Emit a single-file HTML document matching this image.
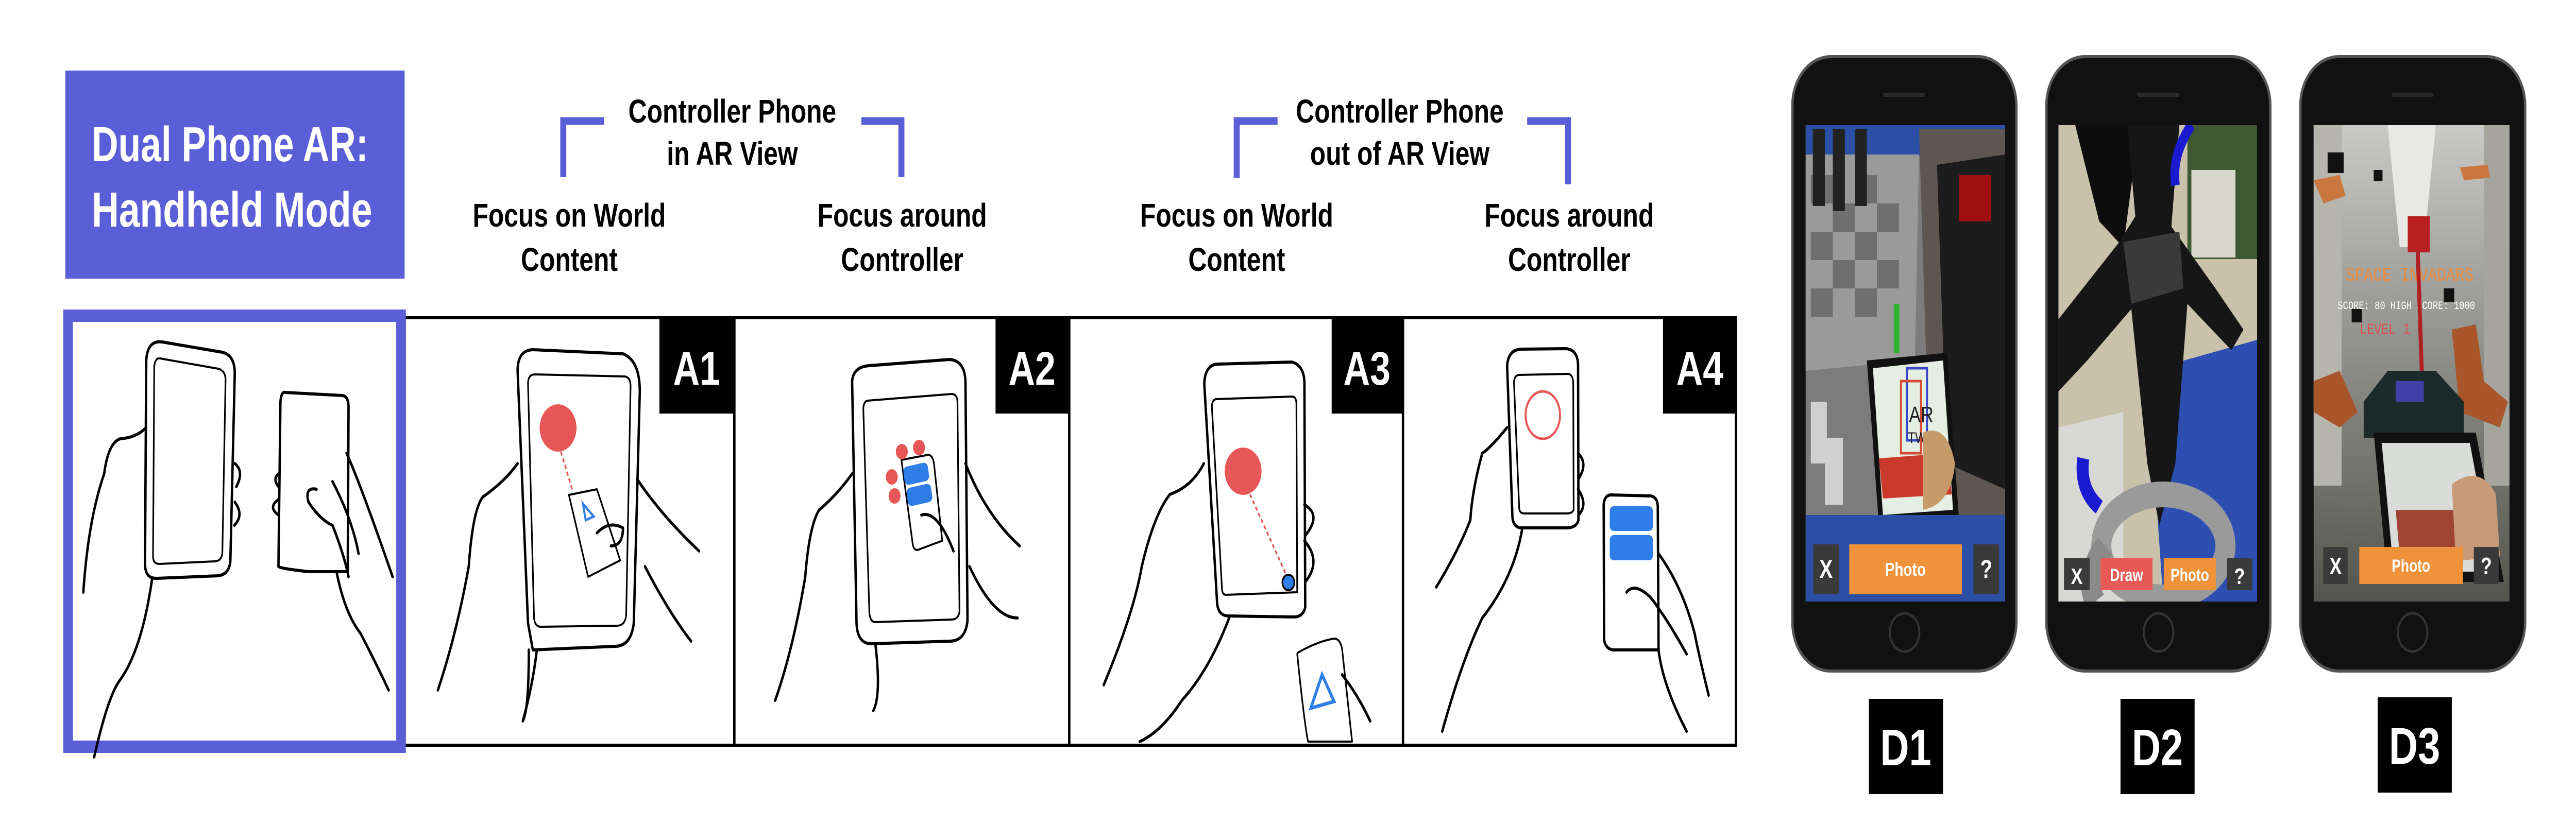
<!DOCTYPE html>
<html><head><meta charset="utf-8"><style>
html,body{margin:0;padding:0;background:#fff;width:100%;height:100%;overflow:hidden;}
svg{display:block;width:100vw;height:100vh;}
.t{font-family:"Liberation Sans",sans-serif;font-weight:bold;}
</style></head><body>
<svg viewBox="0 0 6430 1600" preserveAspectRatio="none" xmlns="http://www.w3.org/2000/svg">
<rect width="6430" height="1600" fill="#fff"/>
<rect x="163" y="137" width="847" height="404" fill="#5a5fd7"/>
<text class="t" x="229" y="313" font-size="96" fill="#fff" textLength="690" lengthAdjust="spacingAndGlyphs">Dual Phone AR:</text>
<text class="t" x="229" y="440" font-size="96" fill="#fff" textLength="700" lengthAdjust="spacingAndGlyphs">Handheld Mode</text>

<g class="t" font-size="64" fill="#000" text-anchor="middle">
<text x="1828" y="238">Controller Phone</text>
<text x="1828" y="320">in AR View</text>
<text x="1421" y="440">Focus on World</text>
<text x="1421" y="526">Content</text>
<text x="2252" y="440">Focus around</text>
<text x="2252" y="526">Controller</text>
<text x="3494" y="238">Controller Phone</text>
<text x="3494" y="320">out of AR View</text>
<text x="3087" y="440">Focus on World</text>
<text x="3087" y="526">Content</text>
<text x="3917" y="440">Focus around</text>
<text x="3917" y="526">Controller</text>
</g>
<g fill="none" stroke="#5a5fd7" stroke-width="15">
<polyline points="1508,235 1406,235 1406,344"/>
<polyline points="2150,235 2250,235 2250,344"/>
<polyline points="3189,235 3087,235 3087,346"/>
<polyline points="3812,235 3914,235 3914,358"/>
</g>

<rect x="1010" y="617" width="3323" height="830" fill="none" stroke="#000" stroke-width="6"/>
<g stroke="#000" stroke-width="6">
<line x1="1833" y1="615" x2="1833" y2="1449"/>
<line x1="2669" y1="615" x2="2669" y2="1449"/>
<line x1="3502" y1="615" x2="3502" y2="1449"/>
</g>
<g fill="#000">
<rect x="1646" y="615" width="186" height="188"/>
<rect x="2485" y="615" width="182" height="188"/>
<rect x="3324" y="615" width="176" height="188"/>
<rect x="4151" y="615" width="184" height="188"/>
</g>
<g class="t" font-size="92" fill="#fff" text-anchor="middle">
<text x="1739" y="747">A1</text>
<text x="2576" y="747">A2</text>
<text x="3412" y="747">A3</text>
<text x="4243" y="747">A4</text>
</g>
<rect x="170" y="613" width="831" height="837" fill="none" stroke="#5a5fd7" stroke-width="24"/>

<g fill="none" stroke="#000" stroke-width="6" stroke-linecap="round" stroke-linejoin="round">
<path d="M405,664 L555,684 Q586,690 586,725 L575,1090 Q572,1115 545,1118 L392,1123 Q362,1124 362,1095 L365,700 Q368,660 405,664Z"/>
<path d="M400,696 L545,716 Q563,720 563,738 L555,1075 Q552,1090 535,1090 L398,1095 Q382,1095 382,1080 L385,712 Q387,694 400,696Z" stroke-width="4"/>
<path d="M712,762 L855,768 Q870,770 870,790 L868,1110 L770,1110 Q700,1104 695,1100 L700,780 Q702,760 712,762Z"/>
<path d="M365,830 Q340,850 300,852 Q270,860 260,920 Q220,1010 208,1150"/>
<path d="M380,1122 Q355,1260 300,1320 Q270,1350 235,1470"/>
<path d="M830,935 Q880,1010 895,1075 M865,880 Q900,940 980,1120"/>
<path d="M790,950 Q760,945 770,975 Q800,1010 830,1020 Q860,1080 870,1120 M840,1110 Q860,1190 900,1230 Q940,1290 970,1340"/>
<path d="M586,900 Q610,915 590,945 M586,975 Q610,1000 585,1020 M695,920 Q680,930 695,945 M695,970 Q668,985 695,1000"/>
<path d="M1330,679 L1555,687 Q1597,700 1597,760 L1582,1210 Q1575,1255 1535,1255 L1330,1262 L1318,1210 L1292,720 Q1292,680 1330,679Z"/>
<path d="M1335,727 L1560,731 Q1574,733 1574,750 L1563,1195 Q1560,1215 1540,1215 L1350,1217 Q1335,1217 1333,1200 L1318,745 Q1318,727 1335,727Z" stroke-width="4"/>
<path d="M1420,961 L1490,950 L1548,1088 L1468,1120 Z" stroke-width="4"/>
<path d="M1292,900 Q1260,935 1205,965 Q1180,990 1170,1100 Q1140,1230 1093,1340"/>
<path d="M1320,1262 Q1320,1380 1305,1400 M1340,1262 Q1330,1330 1305,1400"/>
<path d="M1590,930 Q1650,1000 1745,1070 M1610,1100 Q1670,1190 1725,1245"/>
<path d="M1490,1035 Q1520,1010 1555,1025 Q1555,1060 1525,1060"/>
<path d="M2170,710 L2370,698 Q2410,700 2410,745 L2415,1205 Q2410,1245 2370,1245 L2175,1250 Q2140,1250 2138,1210 L2127,740 Q2130,712 2170,710Z"/>
<path d="M2165,778 L2375,765 Q2390,765 2390,782 L2395,1188 Q2392,1203 2375,1203 L2185,1208 Q2172,1208 2170,1190 L2155,795 Q2155,780 2165,778Z" stroke-width="4"/>
<path d="M2250,893 L2318,883 Q2330,885 2332,905 L2352,1050 L2290,1068 Q2280,1068 2278,1055 Z" stroke-width="4"/>
<path d="M2127,920 Q2090,960 2045,990 Q2020,1020 2010,1120 Q1980,1260 1935,1360"/>
<path d="M2185,1250 Q2200,1350 2180,1380"/>
<path d="M2410,900 Q2460,1000 2545,1060 M2420,1100 Q2480,1200 2540,1200"/>
<path d="M2300,1000 Q2340,990 2380,1070"/>
<path d="M3040,707 L3225,703 Q3256,710 3256,745 L3258,1180 Q3252,1198 3230,1198 L3065,1196 Q3040,1195 3038,1170 L3006,745 Q3008,708 3040,707Z"/>
<path d="M3035,775 L3225,770 Q3236,770 3236,785 L3238,1150 L3060,1155 Q3050,1155 3050,1140 L3025,790 Q3025,777 3035,775Z" stroke-width="4"/>
<path d="M3240,1267 Q3290,1245 3330,1240 Q3345,1240 3350,1260 L3375,1440 L3265,1440 Q3255,1400 3238,1270Z" stroke-width="4"/>
<path d="M3005,900 Q2975,945 2920,960 Q2880,1000 2850,1100 Q2830,1190 2755,1330"/>
<path d="M3070,1196 Q3020,1300 2950,1360 Q2900,1420 2845,1440"/>
<path d="M3256,980 Q3300,1000 3258,1040 M3256,1050 Q3300,1090 3258,1130"/>
<path d="M3350,1310 Q3390,1350 3420,1400"/>
<path d="M3795,678 L3910,677 Q3939,680 3939,710 L3940,1010 Q3935,1025 3910,1025 L3795,1025 Q3775,1022 3775,1000 L3762,710 Q3765,680 3795,678Z"/>
<path d="M3790,728 L3915,726 Q3927,728 3927,745 L3928,990 Q3925,997 3910,997 L3805,997 Q3792,997 3792,985 L3779,742 Q3780,730 3790,728Z" stroke-width="4"/>
<path d="M4020,961 L4120,963 Q4138,965 4138,985 L4140,1262 L4025,1262 Q4005,1258 4004,1240 L4003,980 Q4005,962 4020,961Z"/>
<path d="M3762,830 Q3720,870 3700,880 Q3675,950 3670,1010 Q3640,1070 3585,1140"/>
<path d="M3800,1025 Q3780,1120 3700,1200 Q3650,1280 3600,1420"/>
<path d="M3939,880 Q3965,900 3940,930 M3939,950 Q3965,980 3940,1000"/>
<path d="M4140,1075 Q4200,1140 4230,1230 Q4240,1270 4265,1350 M4060,1150 Q4080,1130 4120,1160 Q4160,1200 4210,1270 M4140,1262 Q4150,1330 4210,1420"/>
</g>
<g>
<circle cx="1393" cy="831" r="46" fill="#e85757"/>
<line x1="1400" y1="877" x2="1430" y2="955" stroke="#e85757" stroke-width="4" stroke-dasharray="8 6"/>
<polygon points="1455,978 1482,1003 1462,1010" fill="none" stroke="#2f7ee8" stroke-width="5"/>
<circle cx="2251" cy="877" r="15" fill="#e85757"/><circle cx="2294" cy="869" r="15" fill="#e85757"/>
<circle cx="2226" cy="926" r="15" fill="#e85757"/><circle cx="2233" cy="963" r="15" fill="#e85757"/>
<rect x="2256" y="902" width="62" height="36" rx="10" fill="#2f7ee8" transform="rotate(-10 2287 920)"/>
<rect x="2264" y="943" width="62" height="36" rx="10" fill="#2f7ee8" transform="rotate(-10 2295 961)"/>
<circle cx="3103" cy="915" r="46" fill="#e85757"/>
<line x1="3120" y1="960" x2="3210" y2="1115" stroke="#e85757" stroke-width="4" stroke-dasharray="8 6"/>
<circle cx="3216" cy="1131" r="15" fill="#2f7ee8" stroke="#000" stroke-width="4"/>
<polygon points="3300,1310 3330,1362 3272,1375" fill="none" stroke="#2f7ee8" stroke-width="7"/>
<ellipse cx="3851" cy="806" rx="43" ry="46" fill="none" stroke="#e85757" stroke-width="5"/>
<rect x="4018" y="983" width="108" height="48" rx="10" fill="#2f7ee8"/>
<rect x="4018" y="1039" width="108" height="49" rx="10" fill="#2f7ee8"/>
</g>

<defs>
<clipPath id="s1"><rect x="4507" y="243" width="498" height="925"/></clipPath>
<clipPath id="s2"><rect x="5138" y="243" width="496" height="925"/></clipPath>
<clipPath id="s3"><rect x="5775" y="243" width="489" height="925"/></clipPath>
<linearGradient id="hall" x1="0" y1="0" x2="0" y2="1"><stop offset="0" stop-color="#c9c9c6"/><stop offset="0.5" stop-color="#8d8d88"/><stop offset="1" stop-color="#55554f"/></linearGradient>
</defs>
<g>
<rect x="4474" y="110" width="559" height="1193" rx="95" fill="#111" stroke="#555" stroke-width="6"/>
<rect x="5108" y="110" width="559" height="1193" rx="95" fill="#111" stroke="#555" stroke-width="6"/>
<rect x="5742" y="110" width="561" height="1193" rx="95" fill="#111" stroke="#555" stroke-width="6"/>
<g fill="none" stroke="#333" stroke-width="5">
<circle cx="4754" cy="1228" r="37"/><circle cx="5388" cy="1228" r="37"/><circle cx="6022" cy="1228" r="37"/>
</g>
<g fill="#2a2a2a"><rect x="4700" y="180" width="105" height="8" rx="4"/><rect x="5335" y="180" width="105" height="8" rx="4"/><rect x="5970" y="180" width="105" height="8" rx="4"/></g>

<g clip-path="url(#s1)">
<rect x="4507" y="243" width="498" height="925" fill="#7c7c7c"/>
<rect x="4507" y="243" width="498" height="60" fill="#2b4fa4"/>
<path d="M4507,300 L4790,300 L4780,700 L4507,720Z" fill="#9a9a9a"/>
<g fill="#6f6f6f">
<rect x="4520" y="340" width="55" height="55"/><rect x="4630" y="340" width="55" height="55"/><rect x="4575" y="395" width="55" height="55"/><rect x="4685" y="395" width="55" height="55"/>
<rect x="4520" y="450" width="55" height="55"/><rect x="4630" y="450" width="55" height="55"/><rect x="4575" y="505" width="55" height="55"/><rect x="4685" y="505" width="55" height="55"/>
<rect x="4520" y="560" width="55" height="55"/><rect x="4630" y="560" width="55" height="55"/>
</g>
<path d="M4790,250 L5005,250 L5005,1000 L4820,1000 Z" fill="#5e5652"/>
<path d="M4835,320 L5005,300 L5005,950 L4860,900Z" fill="#1c1c1c"/>
<rect x="4890" y="340" width="80" height="90" fill="#a01010"/>
<g fill="#222"><rect x="4525" y="250" width="30" height="150"/><rect x="4575" y="250" width="30" height="160"/><rect x="4630" y="250" width="30" height="150"/></g>
<g fill="#d0d0d0"><rect x="4520" y="780" width="40" height="120"/><rect x="4555" y="850" width="45" height="130"/></g>
<rect x="4727" y="590" width="14" height="95" fill="#2fb52f"/>
<polygon points="4660,700 4860,685 4890,1010 4690,1020" fill="#111"/>
<polygon points="4675,715 4850,700 4875,990 4700,1000" fill="#e4eee2"/>
<polygon points="4690,890 4860,880 4872,960 4700,968" fill="#c93a2a"/>
<rect x="4760" y="715" width="50" height="140" fill="none" stroke="#3b47c8" stroke-width="5"/>
<rect x="4745" y="740" width="50" height="140" fill="none" stroke="#d54a32" stroke-width="5"/>
<text x="4765" y="820" font-family="Liberation Sans" font-size="44" fill="#222">AR</text>
<text x="4762" y="860" font-family="Liberation Sans" font-size="30" fill="#222">TWO</text>
<rect x="4507" y="1000" width="498" height="168" fill="#2b4fa4"/>
<path d="M4800,840 Q4860,820 4880,900 Q4870,980 4800,990Z" fill="#c79a6a"/>
<rect x="4526" y="1057" width="64" height="97" fill="#3a3a3a"/>
<rect x="4616" y="1057" width="281" height="97" fill="#f0923a"/>
<rect x="4926" y="1057" width="64" height="97" fill="#3a3a3a"/>
<g class="t" fill="#fff" text-anchor="middle"><text x="4558" y="1122" font-size="50">X</text><text x="4756" y="1118" font-size="36">Photo</text><text x="4958" y="1122" font-size="50">?</text></g>
</g>

<g clip-path="url(#s2)">
<rect x="5138" y="243" width="496" height="925" fill="#c9c1aa"/>
<rect x="5460" y="243" width="174" height="260" fill="#3f5a33"/>
<rect x="5470" y="330" width="110" height="170" fill="#d9d7cc"/>
<polygon points="5360,720 5634,660 5634,1168 5400,1168" fill="#2d4fb2"/>
<polygon points="5138,830 5300,800 5300,1168 5138,1168" fill="#d8d8d4"/>
<path d="M5180,243 L5340,243 L5300,480 L5240,430 Z" fill="#0d0d0d"/>
<path d="M5310,243 L5440,243 L5420,440 L5530,560 L5600,640 L5570,680 L5460,590 L5430,900 L5390,1020 L5360,900 L5320,600 L5210,700 L5138,760 L5138,620 L5290,470 L5330,420Z" fill="#161616"/>
<path d="M5300,470 L5440,450 L5450,560 L5320,590Z" fill="#3a3a3a"/>
<path d="M5470,243 Q5420,300 5430,360" stroke="#1a1ad0" stroke-width="22" fill="none"/>
<path d="M5200,890 Q5190,950 5240,985" stroke="#1a1ad0" stroke-width="30" fill="none"/>
<ellipse cx="5400" cy="1060" rx="155" ry="100" fill="none" stroke="#9a9a9a" stroke-width="50"/>
<path d="M5255,1060 Q5200,1120 5230,1168" stroke="#8a8a8a" stroke-width="50" fill="none"/>
<rect x="5152" y="1084" width="64" height="62" fill="#3a3a3a"/>
<rect x="5243" y="1084" width="130" height="62" fill="#e85a55"/>
<rect x="5401" y="1084" width="130" height="62" fill="#f0923a"/>
<rect x="5559" y="1084" width="63" height="62" fill="#3a3a3a"/>
<g class="t" fill="#fff" text-anchor="middle"><text x="5184" y="1134" font-size="44">X</text><text x="5308" y="1128" font-size="34">Draw</text><text x="5466" y="1128" font-size="34">Photo</text><text x="5590" y="1134" font-size="44">?</text></g>
</g>

<g clip-path="url(#s3)">
<rect x="5775" y="243" width="489" height="925" fill="url(#hall)"/>
<polygon points="5960,243 6080,243 6050,480 5990,480" fill="#e8e8e4"/>
<rect x="5775" y="243" width="70" height="700" fill="#b5b5ae"/>
<rect x="6200" y="243" width="64" height="700" fill="#a5a59e"/>
<rect x="6010" y="420" width="55" height="70" fill="#b82020"/>
<polygon points="5775,350 5840,340 5855,380 5800,395" fill="#c9773e"/>
<polygon points="6140,325 6210,320 6215,345 6150,350" fill="#c9773e"/>
<polygon points="5775,740 5840,720 5885,800 5840,830 5775,800" fill="#a8562a"/>
<polygon points="6120,640 6180,630 6200,740 6260,780 6240,830 6140,800" fill="#a8562a"/>
<polygon points="5960,720 6080,720 6150,780 6150,850 5900,850 5900,780" fill="#1c2a2a"/>
<rect x="5980" y="740" width="70" height="40" fill="#4040a8"/>
<rect x="5810" y="296" width="40" height="40" fill="#111"/><rect x="5925" y="330" width="22" height="22" fill="#111"/><rect x="6100" y="560" width="26" height="26" fill="#111"/><rect x="5870" y="600" width="26" height="26" fill="#111"/>
<text x="5855" y="545" font-family="Liberation Mono" font-size="38" fill="#ec8a3a">SPACE INVADARS</text>
<text x="5835" y="600" font-family="Liberation Mono" font-size="22" fill="#fff">SCORE: 80  HIGH SCORE: 1000</text>
<text x="5890" y="648" font-family="Liberation Mono" font-size="30" fill="#e05050">LEVEL 1</text>
<line x1="6035" y1="490" x2="6045" y2="720" stroke="#b02020" stroke-width="10"/>
<polygon points="5925,840 6180,840 6250,1130 5960,1130" fill="#111"/>
<polygon points="5945,860 6165,860 6225,1110 5975,1110" fill="#d9dcd8"/>
<polygon points="5980,990 6200,990 6215,1080 5990,1080" fill="#a04535"/>
<path d="M6120,940 Q6190,900 6230,960 L6240,1080 L6130,1090Z" fill="#c99a78"/>
<rect x="5799" y="1062" width="61" height="72" fill="#3a3a3a"/>
<rect x="5889" y="1062" width="259" height="72" fill="#f0923a"/>
<rect x="6175" y="1062" width="62" height="72" fill="#3a3a3a"/>
<g class="t" fill="#fff" text-anchor="middle"><text x="5830" y="1115" font-size="46">X</text><text x="6018" y="1110" font-size="34">Photo</text><text x="6206" y="1115" font-size="46">?</text></g>
</g>
</g>

<rect x="4665" y="1357" width="185" height="185" fill="#000"/>
<rect x="5293" y="1357" width="185" height="185" fill="#000"/>
<rect x="5935" y="1354" width="185" height="185" fill="#000"/>
<g class="t" font-size="100" fill="#fff" text-anchor="middle">
<text x="4757" y="1486">D1</text><text x="5385" y="1486">D2</text><text x="6027" y="1483">D3</text>
</g>
</svg>
</body></html>
